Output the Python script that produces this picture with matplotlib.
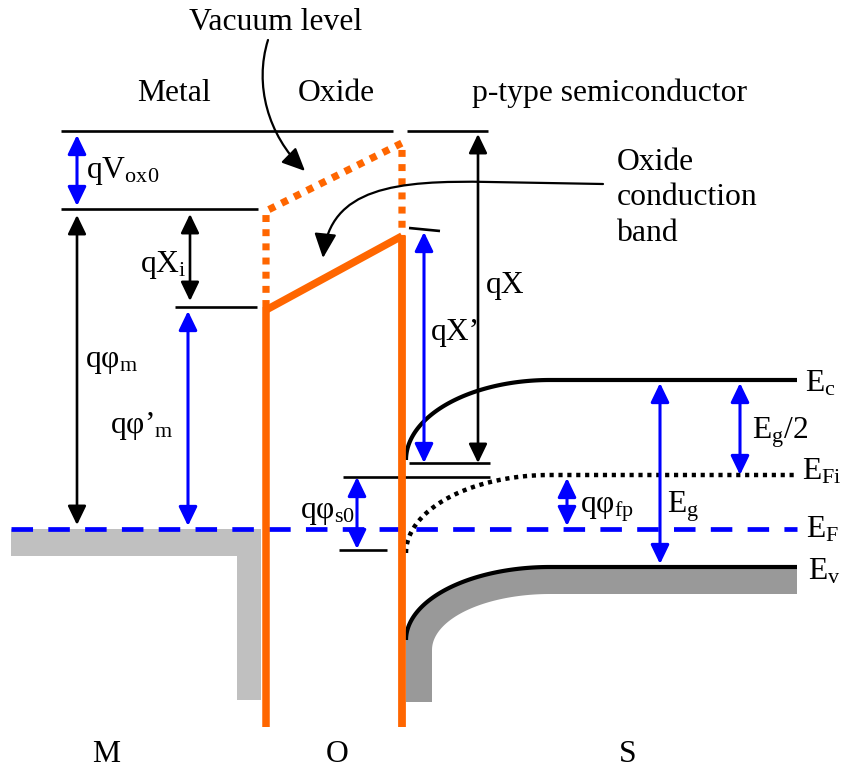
import numpy as np
import matplotlib
matplotlib.use("Agg")
import matplotlib.pyplot as plt
from matplotlib.patches import FancyArrowPatch, Polygon
from matplotlib.path import Path

plt.rcParams['font.family'] = ['Liberation Serif', 'DejaVu Serif']
plt.rcParams['mathtext.fontset'] = 'custom'
plt.rcParams['mathtext.rm'] = 'Liberation Serif'
plt.rcParams['mathtext.it'] = 'Liberation Serif:italic'
plt.rcParams['lines.scale_dashes'] = False

# ---- band-diagram geometry (diagram units, energy axis points downward) ----
# horizontal positions of the regions
x_metal = [11, 237, 261]          # metal left edge, inner step, interface
x_oxide = [266, 402]              # oxide walls
x_semi = [406, 432, 550, 797]     # surface, band inner edge, end of bending, bulk end

# energy levels
E_vac_top = 131                   # vacuum reference line
E_vac_metal = 209                 # vacuum level at metal/oxide interface
E_vac_oxide = [211, 143]          # vacuum level across the oxide (left, right)
E_cb_oxide = [310, 236]           # oxide conduction band (left, right)
E_cb_ox_ref = 307                 # oxide CB reference at metal side
E_F = 529                         # Fermi level
E_metal_band = 556                # bottom of metal filled band block
E_metal_bottom = 700
E_c = [460, 380]                  # Ec at surface, bulk
E_i = [553, 475]                  # EFi at surface, bulk
E_v = [640, 567]                  # Ev at surface, bulk
E_v_band = [650, 594]             # inner edge of valence-band shading
E_semi_bottom = 702
E_ref_463 = 463                   # qX' / qX lower reference
E_ref_477 = 477                   # qphi_s0 upper reference
E_ref_550 = 550                   # qphi_s0 lower reference
wall_bottom = 727

ORANGE = '#FF6600'
BLUE = '#0000FF'

fig = plt.figure(figsize=(8.41, 7.69), dpi=100)
ax = fig.add_axes([0, 0, 1, 1])
ax.set_xlim(0, 841)
ax.set_ylim(769, 0)
ax.axis('off')


def bend(x0, x1, y_surf, y_bulk, n=80):
    """Quarter-ellipse band bending from the surface to the bulk value."""
    t = np.linspace(0, np.pi / 2, n)
    x = x1 - (x1 - x0) * np.cos(t)
    y = y_surf - (y_surf - y_bulk) * np.sin(t)
    return x, y


# ---- metal: filled band ----
metal = Polygon([(x_metal[0], E_F), (x_metal[2], E_F), (x_metal[2], E_metal_bottom),
                 (x_metal[1], E_metal_bottom), (x_metal[1], E_metal_band),
                 (x_metal[0], E_metal_band)], closed=True, fc='#C0C0C0', ec='none', zorder=1)
ax.add_patch(metal)

# ---- semiconductor valence-band shading ----
xo, yo = bend(x_semi[0], x_semi[2], E_v[0], E_v[1])
xi, yi = bend(x_semi[1], x_semi[2], E_v_band[0], E_v_band[1])
pts = [(x_semi[0], E_semi_bottom)] + list(zip(xo, yo)) + [(x_semi[3], E_v[1]), (x_semi[3], E_v_band[1])]
pts += list(zip(xi[::-1], yi[::-1])) + [(x_semi[1], E_semi_bottom)]
ax.add_patch(Polygon(pts, closed=True, fc='#999999', ec='none', zorder=1))

# ---- semiconductor bands ----
xc, yc = bend(x_semi[0], x_semi[2], E_c[0], E_c[1])
ax.plot(np.r_[xc, x_semi[3]], np.r_[yc, E_c[1]], color='black', lw=3, solid_capstyle='butt', zorder=3)
ax.plot(np.r_[xo, x_semi[3]], np.r_[yo, E_v[1]], color='black', lw=3, solid_capstyle='butt', zorder=3)
xf, yf = bend(x_semi[0], x_semi[2], E_i[0], E_i[1])
ax.plot(np.r_[xf, x_semi[3]], np.r_[yf, E_i[1]], color='black', lw=3.2,
        dashes=(3.0, 3.4), dash_capstyle='butt', zorder=3)

# ---- Fermi level ----
ax.plot([x_metal[0], x_semi[3]], [E_F, E_F], color=BLUE, lw=3.4,
        dashes=(15.5, 11.0), dash_capstyle='butt', zorder=4)

# ---- oxide ----
ax.plot([x_oxide[0], x_oxide[0]], [E_cb_oxide[0] - 3, wall_bottom], color=ORANGE, lw=5.4,
        solid_capstyle='butt', zorder=5)
ax.plot([x_oxide[1], x_oxide[1]], [E_cb_oxide[1], wall_bottom], color=ORANGE, lw=5.6,
        solid_capstyle='butt', zorder=5)
ax.plot(x_oxide, E_cb_oxide, color=ORANGE, lw=5.4, solid_capstyle='butt', zorder=5)
ax.plot([x_oxide[0], x_oxide[0], x_oxide[1], x_oxide[1]],
        [E_cb_ox_ref, E_vac_oxide[0], E_vac_oxide[1], E_cb_oxide[1]],
        color=ORANGE, lw=5.2, dashes=(5.0, 5.2), dash_capstyle='butt', zorder=5)

# ---- reference lines ----
thin = dict(color='black', lw=1.9, solid_capstyle='butt', zorder=3)
ax.plot([61, 393], [E_vac_top, E_vac_top], **thin)
ax.plot([407, 488], [E_vac_top, E_vac_top], **thin)
ax.plot([61, 258], [E_vac_metal, E_vac_metal], **thin)
ax.plot([175, 257], [E_cb_ox_ref, E_cb_ox_ref], **thin)
ax.plot([409, 440], [228, 231], **thin)
ax.plot([409, 490], [E_ref_463, E_ref_463], **thin)
ax.plot([343, 490], [E_ref_477, E_ref_477], **thin)
ax.plot([339, 387], [E_ref_550, E_ref_550], **thin)


# ---- double arrows ----
def darrow(x, y0, y1, color, lw=1.9):
    a = FancyArrowPatch((x, y0), (x, y1), arrowstyle='<|-|>,head_length=0.58,head_width=0.28',
                        mutation_scale=20, color=color, lw=lw, shrinkA=0, shrinkB=0, zorder=6)
    ax.add_patch(a)


darrow(77, 135, 206, BLUE, 2.2)     # qVox0
darrow(77, 215, 525, 'black')       # qphi_m
darrow(190, 214, 301, 'black')      # qX_i
darrow(188, 311, 526, BLUE, 2.2)    # qphi'_m
darrow(478, 134, 463, 'black')      # qX
darrow(424, 232, 463, BLUE, 2.2)    # qX'
darrow(357, 477, 549, BLUE, 2.2)    # qphi_s0
darrow(567, 478, 526, BLUE, 2.2)    # qphi_fp
darrow(660, 383, 564, BLUE, 2.2)    # Eg
darrow(740, 383, 475, BLUE, 2.2)    # Eg/2

# ---- curved pointer arrows ----
vac_path = Path([(268, 40), (254, 85), (268, 135), (305, 171)],
                [Path.MOVETO, Path.CURVE4, Path.CURVE4, Path.CURVE4])
ax.add_patch(FancyArrowPatch(path=vac_path, arrowstyle='-|>,head_length=0.7,head_width=0.32',
                             mutation_scale=20, color='black', lw=1.6, zorder=6))
cb_path = Path([(603, 184), (490, 182), (395, 180), (330, 188), (323, 258)],
               [Path.MOVETO, Path.LINETO, Path.CURVE4, Path.CURVE4, Path.CURVE4])
ax.add_patch(FancyArrowPatch(path=cb_path, arrowstyle='-|>,head_length=0.75,head_width=0.34',
                             mutation_scale=20, color='black', lw=1.6, zorder=6))

# ---- text ----
FS = 22.8
txt = dict(fontsize=FS, color='black', va='baseline', ha='left', zorder=7)
ax.text(276, 30, 'Vacuum level', ha='center', fontsize=FS, va='baseline')
ax.text(137, 101, 'Metal', **txt)
ax.text(298, 101, 'Oxide', **txt)
ax.text(472, 101, 'p-type semiconductor', **txt)
ax.text(617, 170, 'Oxide', **txt)
ax.text(617, 205, 'conduction', **txt)
ax.text(617, 241, 'band', **txt)

ax.text(86, 178, r'$\mathrm{qV_{ox0}}$', **txt)
ax.text(140, 272, r'$\mathrm{qX_{i}}$', **txt)
ax.text(85, 367, '$\\mathrm{q\u03c6_{m}}$', **txt)
ax.text(110, 433, '$\\mathrm{q\u03c6\u2019_{m}}$', **txt)
ax.text(486, 293, 'qX', **txt)
ax.text(431, 340, 'qX\u2019', **txt)
ax.text(300, 518, '$\\mathrm{q\u03c6_{s0}}$', **txt)
ax.text(580, 512, '$\\mathrm{q\u03c6_{fp}}$', **txt)
ax.text(667, 512, r'$\mathrm{E_{g}}$', **txt)
ax.text(752, 438, r'$\mathrm{E_{g}/2}$', **txt)
ax.text(805, 392, r'$\mathrm{E_{c}}$', **txt)
ax.text(802, 480, r'$\mathrm{E_{Fi}}$', **txt)
ax.text(806, 538, r'$\mathrm{E_{F}}$', **txt)
ax.text(808, 580, r'$\mathrm{E_{v}}$', **txt)

ax.text(106, 762, 'M', ha='center', fontsize=FS, va='baseline')
ax.text(337, 762, 'O', ha='center', fontsize=FS, va='baseline')
ax.text(628, 762, 'S', ha='center', fontsize=FS, va='baseline')

fig.savefig('out.png', dpi=100)
